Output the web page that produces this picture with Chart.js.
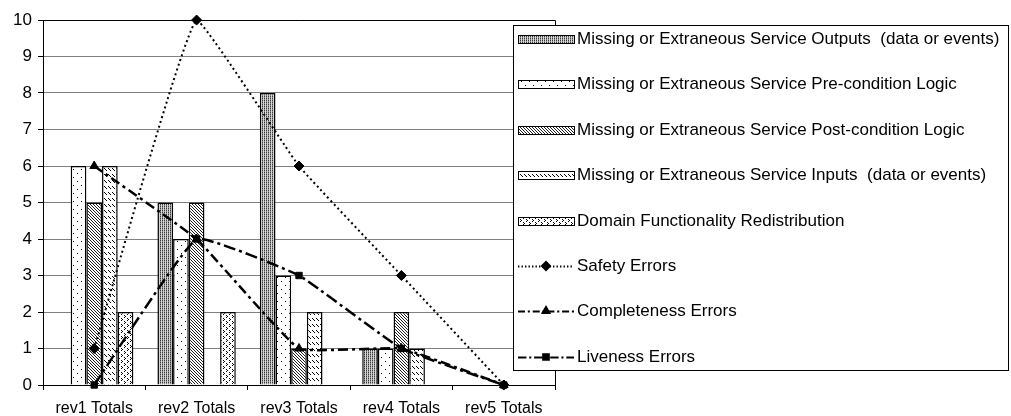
<!DOCTYPE html>
<html>
<head>
<meta charset="utf-8">
<script src="https://cdn.jsdelivr.net/npm/chart.js@4/dist/chart.umd.min.js"></script>
<style>
  body { margin: 0; background: #fff; }
</style>
</head>
<body>
<canvas id="errorsChart" width="1011" height="416"></canvas>
<script>
// categories and tick labels
const categories = ['rev1 Totals', 'rev2 Totals', 'rev3 Totals', 'rev4 Totals', 'rev5 Totals'];
const yTicks = [0, 1, 2, 3, 4, 5, 6, 7, 8, 9, 10];

// bar series
const outputsErrors = [0, 5, 8, 1, 0];
const preConditionErrors = [6, 4, 3, 1, 0];
const postConditionErrors = [5, 5, 1, 2, 0];
const inputsErrors = [6, 0, 2, 1, 0];
const domainErrors = [2, 2, 0, 0, 0];

// line series
const safetyErrors = [1, 10, 6, 3, 0];
const completenessErrors = [6, 4, 1, 1, 0];
const livenessErrors = [0, 4, 3, 1, 0];

const FONT = "Arial, 'Liberation Sans', sans-serif";

// small tiles used as fill patterns, like the old office hatches
function makePattern(w, h, bg, pixels) {
    const c = document.createElement('canvas');
    c.width = w;
    c.height = h;
    const x = c.getContext('2d');
    x.fillStyle = bg;
    x.fillRect(0, 0, w, h);
    pixels.forEach(p => {
        x.fillStyle = p[2] || '#000';
        x.fillRect(p[0], p[1], 1, 1);
    });
    return x.createPattern(c, 'repeat');
}

const patOutputs = makePattern(2, 2, '#d6d6d6', [[0, 0, '#3a3a3a'], [0, 1, '#8a8a8a']]);
const patPre = makePattern(8, 8, '#fff', [[1, 1], [5, 5]]);
const patPost = makePattern(3, 3, '#fff', [[0, 0, '#222'], [1, 1, '#222'], [2, 2, '#222']]);
const patInputs = makePattern(4, 6, '#fff', [[0, 0], [1, 1], [2, 2]]);
const patDomain = makePattern(6, 6, '#fff', [[1, 0], [2, 1], [1, 2], [4, 3], [5, 4], [4, 5]]);

function barSet(label, data, pattern) {
    return {
        type: 'bar',
        label: label,
        data: data,
        backgroundColor: pattern,
        borderColor: '#000',
        borderWidth: 1.5,
        inflateAmount: 0,
        barPercentage: 1.0,
        categoryPercentage: 0.765,
        order: 2
    };
}

function lineSet(label, data, style, dash, width) {
    return {
        type: 'line',
        label: label,
        data: data,
        borderColor: '#000',
        backgroundColor: '#000',
        borderWidth: width,
        borderDash: dash,
        pointStyle: style,
        pointRadius: style === 'rect' ? 4.5 : 5,
        pointBorderWidth: 1,
        fill: false,
        tension: 0.1,
        clip: false,
        order: 1
    };
}

const datasets = [
    barSet('Missing or Extraneous Service Outputs  (data or events)', outputsErrors, patOutputs),
    barSet('Missing or Extraneous Service Pre-condition Logic', preConditionErrors, patPre),
    barSet('Missing or Extraneous Service Post-condition Logic', postConditionErrors, patPost),
    barSet('Missing or Extraneous Service Inputs  (data or events)', inputsErrors, patInputs),
    barSet('Domain Functionality Redistribution', domainErrors, patDomain),
    lineSet('Safety Errors', safetyErrors, 'rectRot', [2, 3], 2),
    lineSet('Completeness Errors', completenessErrors, 'triangle', [10, 4, 3, 4], 2.5),
    lineSet('Liveness Errors', livenessErrors, 'rect', [12, 4, 3, 4], 2.5)
];

// plot frame + legend box drawn over the plot, like the original
const frameAndLegend = {
    id: 'frameAndLegend',
    afterDraw(chart) {
        const ctx = chart.ctx;
        const a = chart.chartArea;
        ctx.save();
        ctx.strokeStyle = '#000';
        ctx.lineWidth = 1;
        ctx.setLineDash([]);
        ctx.beginPath();
        ctx.moveTo(a.left, a.top + 0.5);
        ctx.lineTo(a.right + 0.5, a.top + 0.5);
        ctx.lineTo(a.right + 0.5, a.bottom);
        ctx.stroke();

        const box = { x: 513, y: 25, w: 495, h: 345 };
        ctx.fillStyle = '#fff';
        ctx.fillRect(box.x, box.y, box.w, box.h);
        ctx.strokeRect(box.x + 0.5, box.y + 0.5, box.w, box.h);

        const sx = 518, sw = 56, tx = 577;
        ctx.font = '17px ' + FONT;
        ctx.textBaseline = 'middle';
        chart.data.datasets.forEach((ds, i) => {
            const cy = Math.round(39 + i * 45.4);
            if (ds.type === 'bar') {
                ctx.fillStyle = ds.backgroundColor;
                ctx.fillRect(sx, cy - 4, sw, 8);
                ctx.strokeStyle = '#000';
                ctx.lineWidth = 1;
                ctx.strokeRect(sx + 0.5, cy - 4 + 0.5, sw, 8);
            } else {
                ctx.strokeStyle = '#000';
                ctx.lineWidth = Math.min(ds.borderWidth, 2);
                ctx.setLineDash(ds.borderDash.map(d => d * 0.7));
                ctx.beginPath();
                ctx.moveTo(sx, cy + 0.5);
                ctx.lineTo(sx + sw, cy + 0.5);
                ctx.stroke();
                ctx.setLineDash([]);
                Chart.helpers.drawPoint(ctx, {
                    pointStyle: ds.pointStyle,
                    radius: 4,
                    borderWidth: 1
                }, sx + sw / 2, cy);
                ctx.fillStyle = '#000';
                ctx.fill();
            }
            ctx.fillStyle = '#000';
            ctx.fillText(ds.label, tx, cy);
        });
        ctx.restore();
    }
};

new Chart(document.getElementById('errorsChart'), {
    type: 'bar',
    data: {
        labels: categories,
        datasets: datasets
    },
    options: {
        responsive: false,
        animation: false,
        devicePixelRatio: 1,
        layout: {
            padding: { top: 20, right: 456, bottom: 0, left: 0 }
        },
        plugins: {
            legend: { display: false },
            tooltip: { enabled: false }
        },
        scales: {
            x: {
                grid: {
                    offset: true,
                    drawOnChartArea: false,
                    drawTicks: true,
                    tickLength: 5,
                    color: '#000'
                },
                border: { color: '#000', width: 1 },
                ticks: {
                    color: '#000',
                    font: { family: FONT, size: 16 },
                    padding: 9,
                    maxRotation: 0
                },
                afterFit(scale) { scale.height = 31; }
            },
            y: {
                min: 0,
                max: 10,
                afterBuildTicks(scale) {
                    scale.ticks = yTicks.map(v => ({ value: v }));
                },
                grid: {
                    color: '#808080',
                    tickColor: '#000',
                    tickLength: 5
                },
                border: { color: '#000', width: 1 },
                ticks: {
                    color: '#000',
                    font: { family: FONT, size: 17 },
                    padding: 6
                },
                afterFit(scale) { scale.width = 43; }
            }
        }
    },
    plugins: [frameAndLegend]
});
</script>
</body>
</html>
